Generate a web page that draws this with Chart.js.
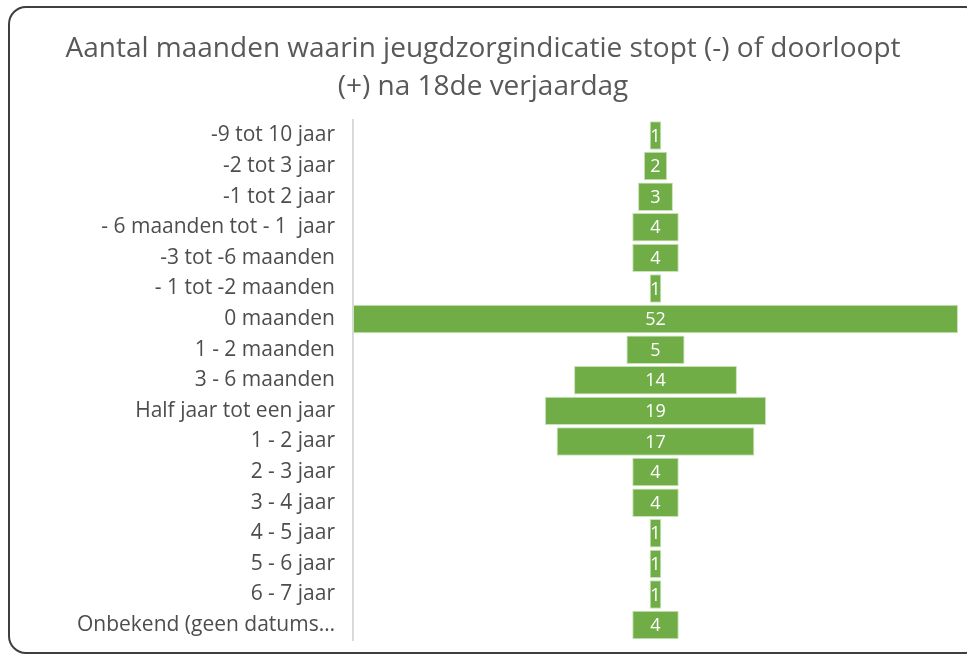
<!DOCTYPE html>
<html>
<head>
<meta charset="utf-8">
<script src="https://cdn.jsdelivr.net/npm/chart.js@4.4.1/dist/chart.umd.min.js"></script>
<style>
    html, body { margin: 0; padding: 0; background: #fff; overflow: hidden; }
    .frame {
        position: absolute; left: 8px; top: 6px; width: 975px; height: 648px;
        border: 2px solid #3f3f3f; border-radius: 18px; box-sizing: border-box;
    }
    .holder { position: absolute; left: 8px; top: 6px; width: 967px; height: 665px; }
</style>
</head>
<body>
<div class="frame"></div>
<div class="holder"><canvas id="funnel-chart"></canvas></div>
<script>
    // Data
    var categories = [
        "-9 tot 10 jaar", "-2 tot 3 jaar", "-1 tot 2 jaar", "- 6 maanden tot - 1  jaar",
        "-3 tot -6 maanden", "- 1 tot -2 maanden", "0 maanden", "1 - 2 maanden",
        "3 - 6 maanden", "Half jaar tot een jaar", "1 - 2 jaar", "2 - 3 jaar",
        "3 - 4 jaar", "4 - 5 jaar", "5 - 6 jaar", "6 - 7 jaar", "Onbekend (geen datums…"
    ];
    var counts = [1, 2, 3, 4, 4, 1, 52, 5, 14, 19, 17, 4, 4, 1, 1, 1, 4];
    var titleLines = ["Aantal maanden waarin jeugdzorgindicatie stopt (-) of doorloopt", "(+) na 18de verjaardag"];

    var fontName = "Open Sans";

    // Funnel: each bar floats around zero
    var funnelData = counts.map(function (v) { return [-v / 2, v / 2]; });

    // Value labels in the middle of each bar
    var valueLabels = {
        id: "valueLabels",
        afterDatasetsDraw: function (chart) {
            var ctx = chart.ctx;
            var meta = chart.getDatasetMeta(0);
            ctx.save();
            ctx.fillStyle = "#ffffff";
            ctx.font = "18px " + fontName;
            ctx.textAlign = "center";
            ctx.textBaseline = "middle";
            meta.data.forEach(function (bar, i) {
                var x = (bar.x + bar.base) / 2;
                ctx.fillText(String(counts[i]), x, bar.y + 1);
            });
            ctx.restore();
        }
    };

    var ctx = document.getElementById("funnel-chart").getContext("2d");
    var myChart = new Chart(ctx, {
        type: "bar",
        data: {
            labels: categories,
            datasets: [{
                data: funnelData,
                backgroundColor: "#70ad47",
                borderColor: "#c9e2b8",
                borderWidth: 1,
                borderSkipped: false,
                categoryPercentage: 0.93,
                barPercentage: 1
            }]
        },
        options: {
            indexAxis: "y",
            responsive: true,
            maintainAspectRatio: false,
            animation: false,
            layout: { padding: { left: 0, right: 17, top: 21, bottom: 0 } },
            plugins: {
                legend: { display: false },
                tooltip: { enabled: false },
                title: {
                    display: true,
                    text: titleLines,
                    color: "#595959",
                    font: { family: fontName, size: 28, weight: "normal", lineHeight: 1.36 },
                    padding: { top: 3, bottom: 14 }
                }
            },
            scales: {
                x: { display: false, min: -26, max: 26 },
                y: {
                    grid: { display: false, drawTicks: false },
                    border: { display: true, color: "#d9d9d9", width: 2 },
                    ticks: {
                        autoSkip: false,
                        color: "#4d4d4d",
                        padding: 18,
                        font: { family: fontName, size: 21 }
                    },
                    afterFit: function (scale) { scale.width = 345; }
                }
            }
        },
        plugins: [valueLabels]
    });
</script>
</body>
</html>
